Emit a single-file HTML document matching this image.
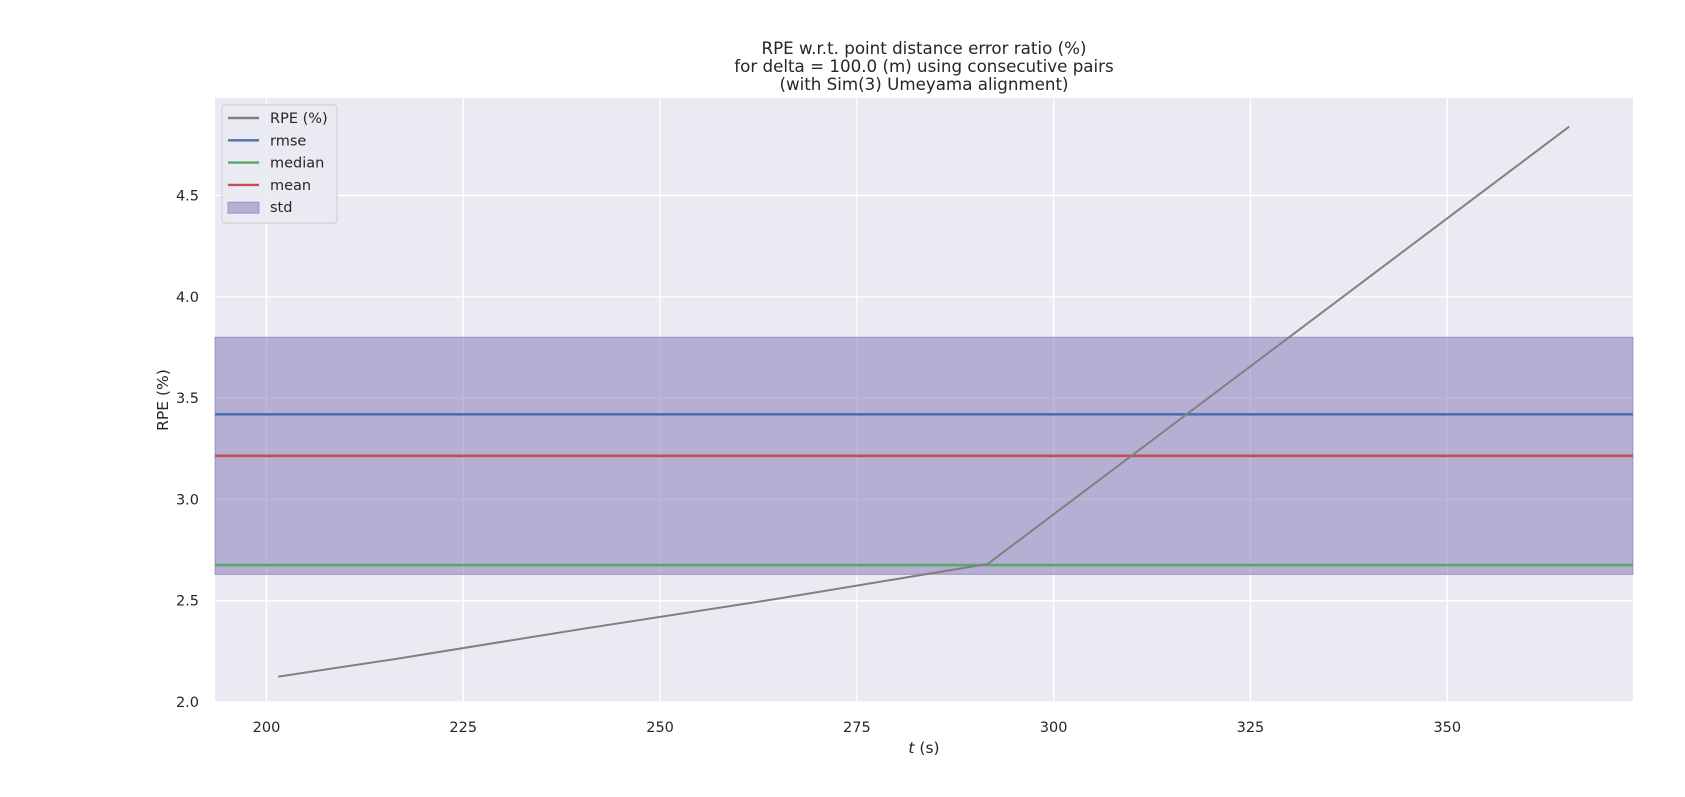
<!DOCTYPE html>
<html><head><meta charset="utf-8"><style>
body{margin:0;background:#fff;}
svg{display:block;font-family:"DejaVu Sans","Liberation Sans",sans-serif;}
</style></head><body>
<svg id="chart" width="1685" height="797">
<g id="plot"></g>
</svg>
<script>
const tValues=[201.5,216,240,265,291.6,365.5];
const rpeValues=[2.125,2.21,2.36,2.51,2.681,4.84];
const xTicks=[200,225,250,275,300,325,350];
const yTicks=[2.0,2.5,3.0,3.5,4.0,4.5];
const rmseValue=[3.42];
const meanValue=[3.215];
const medianValue=[2.676];
const stdBand=[2.63,3.80];

const L=215,R=1633,T=98,B=702;
const xMin=193.46,xMax=373.6,yMin=2.0,yMax=4.981;
const xs=v=>L+(v-xMin)/(xMax-xMin)*(R-L);
const ys=v=>B-(v-yMin)/(yMax-yMin)*(B-T);
const NS='http://www.w3.org/2000/svg';
const svg=document.getElementById('chart');
function mk(tag,attrs,parent){const e=document.createElementNS(NS,tag);for(const k in attrs)e.setAttribute(k,attrs[k]);(parent||svg).appendChild(e);return e;}

const bg=mk('rect',{x:L,y:T,width:R-L,height:B-T,fill:'#eaeaf2'});


xTicks.forEach(v=>{const g=mk('line',{x1:xs(v),x2:xs(v),y1:T,y2:B,stroke:'#fff','stroke-width':1.3});


const t=mk('text',{x:xs(v),y:B+30,'text-anchor':'middle','font-size':14.5,fill:'#262626'});t.textContent=v;

});
yTicks.forEach(v=>{const g=mk('line',{x1:L,x2:R,y1:ys(v),y2:ys(v),stroke:'#fff','stroke-width':1.3});


const t=mk('text',{x:L-16,y:ys(v)+5,'text-anchor':'end','font-size':14.5,fill:'#262626'});t.textContent=v.toFixed(1);

});

const band=mk('rect',{x:L,y:ys(stdBand[1]),width:R-L,height:ys(stdBand[0])-ys(stdBand[1]),fill:'rgba(129,114,179,0.5)',stroke:'rgba(129,114,179,0.6)','stroke-width':1});


[[rmseValue[0],'#4c72b0','rmse-line'],[meanValue[0],'#c44e52','mean-line'],[medianValue[0],'#55a868','median-line']].forEach(([v,c,n])=>{
const l=mk('line',{x1:L,x2:R,y1:ys(v),y2:ys(v),stroke:c,'stroke-width':2.6});

});
const p=mk('polyline',{points:tValues.map((t,i)=>xs(t)+','+ys(rpeValues[i])).join(' '),fill:'none',stroke:'#808080','stroke-width':2});



const lg=mk('g',{});


mk('rect',{x:222,y:105,width:115,height:118,rx:3,fill:'rgba(234,234,242,0.8)',stroke:'#cccccc','stroke-width':1},lg);
const items=[['RPE (%)','#808080','line'],['rmse','#4c72b0','line'],['median','#55a868','line'],['mean','#c44e52','line'],['std','rgba(129,114,179,0.5)','patch']];
items.forEach((it,i)=>{const y=118+i*22.3;
const e=mk('g',{},lg);


if(it[2]==='line')mk('line',{x1:228,x2:259,y1:y,y2:y,stroke:it[1],'stroke-width':2.4},e);
else mk('rect',{x:228,y:y-5,width:31,height:11,fill:it[1],stroke:'rgba(129,114,179,0.6)'},e);
const t=mk('text',{x:270,y:y+5,'font-size':14.5,fill:'#262626'},e);t.textContent=it[0];});

const title=mk('text',{x:924,'text-anchor':'middle','font-size':16.7,fill:'#262626'});


['RPE w.r.t. point distance error ratio (%)','for delta = 100.0 (m) using consecutive pairs','(with Sim(3) Umeyama alignment)'].forEach((s,i)=>{const ts=mk('tspan',{x:924,y:54+i*18},title);ts.textContent=s;});
const xl=mk('text',{x:924,y:753,'text-anchor':'middle','font-size':15.5,fill:'#262626'});
xl.innerHTML='<tspan font-style="italic">t</tspan> (s)';


const yl=mk('text',{x:168,y:400,'text-anchor':'middle','font-size':15.5,fill:'#262626',transform:'rotate(-90 168 400)'});
yl.textContent='RPE (%)';


</script>
</body></html>
